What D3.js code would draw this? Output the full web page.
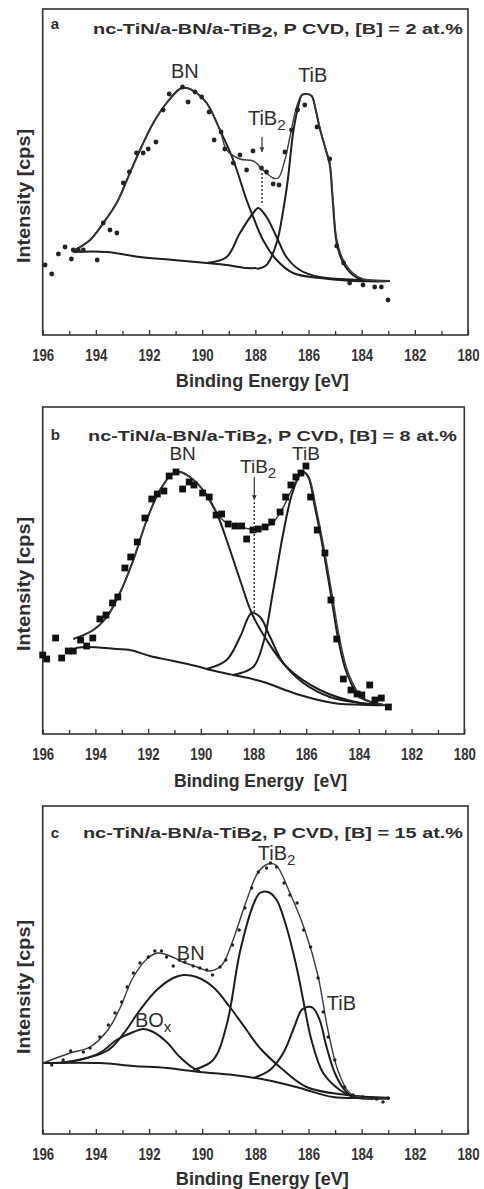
<!DOCTYPE html>
<html>
<head>
<meta charset="utf-8">
<script src="https://cdn.jsdelivr.net/npm/d3@7"></script>
<style>
  body { margin: 0; background: #fff; }
  text { font-family: "Liberation Sans", Arial, sans-serif; fill: #2e2e2e; }
</style>
</head>
<body>
<div id="chart"></div>
<script>
// ---- data (binding energy [eV], intensity [arb. units]) ----
var majorTicks = [196, 194, 192, 190, 188, 186, 184, 182, 180];
var minorTicks = [195, 193, 191, 189, 187, 185, 183, 181];
var panelLetters = ["a", "b", "c"];
var boronContent = [2, 8, 15];

// panel a: [B] = 2 at.%
var aDots = [[195.91,70],[195.66,61],[195.41,81],[195.16,88],[194.92,76],[194.85,85],[194.66,85],[194.47,85],
  [193.95,75],[193.72,112],[193.47,105],[193.21,102],[192.97,152],[192.74,163],[192.47,182],[192.22,182],
  [192.03,186],[191.74,193],[191.47,225],[191.24,241],[190.74,248],[190.53,233],[190.27,243],[190.02,238],
  [189.74,223],[189.55,195],[189.29,203],[189.15,186],[188.83,172],[188.58,180],[188.33,165],[188.09,184],
  [187.77,167],[187.58,163],[187.33,151],[187.11,150],[186.89,183],[186.64,205],[186.41,225],[186.14,230],
  [185.68,208],[185.2,176],[184.94,89],[184.68,72],[184.45,52],[183.95,50],[183.51,48],[183.26,48],[183.01,35]];
var aBackground = [[194.85,83],[193.59,83],[192.34,78],[191.09,75],[189.83,72],[189.08,70],[188.33,67],[187.95,67]];
var aBN = [[194.85,84],[194.22,95],[193.72,112],[193.22,132],[192.72,162],[192.34,185],[191.84,212],[191.34,232],
  [190.84,246],[190.59,247],[190.21,242],[189.83,232],[189.33,205],[188.83,175],[188.33,135],[188.08,118],
  [187.71,95],[187.2,75],[186.58,62],[185.58,57],[184.32,54],[182.94,54]];
var aTiB2 = [[189.83,72],[189.08,78],[188.58,102],[188.08,122],[187.89,127],[187.58,118],[187.2,98],[186.83,78],
  [186.33,65],[185.58,58],[184.07,55],[182.94,54]];
var aTiB = [[187.95,66],[187.58,70],[187.2,92],[186.95,125],[186.78,155],[186.58,202],[186.4,227],[186.25,240],
  [186.06,241],[185.88,239],[185.73,225],[185.58,207],[185.35,185],[185.2,170],[185.09,135],[184.94,92],
  [184.71,73],[184.33,60],[183.95,55],[182.94,54]];
var aEnvelope = [[194.85,84],[194.22,95],[193.72,112],[193.22,132],[192.72,162],[192.34,185],[191.84,212],
  [191.34,232],[190.84,246],[190.59,247],[190.21,242],[189.83,232],[189.33,205],[189.08,185],[188.58,176],
  [188.08,174],[187.71,165],[187.33,157],[187.14,157],[186.89,175],[186.7,198],[186.45,228],[186.25,240],
  [186.06,241],[185.88,239],[185.73,226],[185.58,208],[185.35,186],[185.2,172],[185.09,140],[184.94,96],
  [184.71,76],[184.33,62],[183.95,56],[182.94,54]];

// panel b: [B] = 8 at.%
var bDots = [[196.0,79],[195.85,75],[195.51,96],[195.28,76],[195.03,83],[194.84,83],[194.56,94],[194.33,88],
  [194.1,96],[193.83,115],[193.6,119],[193.35,131],[193.15,137],[192.88,166],[192.66,177],[192.41,192],
  [192.12,216],[191.86,235],[191.65,240],[191.4,243],[191.2,258],[190.94,262],[190.69,245],[190.44,252],
  [190.26,249],[189.93,241],[189.68,237],[189.42,219],[189.21,220],[188.96,210],[188.7,208],[188.45,208],
  [188.26,195],[188.02,204],[187.82,205],[187.56,207],[187.31,212],[186.99,222],[186.78,237],[186.58,249],
  [186.39,257],[186.2,261],[186.01,268],[185.83,237],[185.58,204],[185.29,181],[185.06,134],[184.84,95],
  [184.59,55],[184.3,44],[184.07,40],[183.89,39],[183.59,49],[183.39,34],[183.15,36],[182.88,27]];
var bBackground = [[194.75,86],[194.33,87],[193.19,85],[192.69,84],[191.93,78],[191.04,73],[190.03,67],
  [189.78,65],[188.77,59],[187.75,53],[186.24,39],[184.97,31],[183.7,29],[182.82,29]];
var bBN = [[194.84,95],[194.08,104],[193.57,117],[193.07,141],[192.56,174],[192.05,214],[191.55,244],[191.04,261],
  [190.79,262],[190.41,257],[189.91,244],[189.4,221],[189.02,194],[188.51,154],[188.07,121],[187.5,94],
  [186.74,67],[185.48,44],[183.96,31],[183.07,29]];
var bTiB2 = [[189.78,65],[189.02,74],[188.51,97],[188.07,121],[187.75,117],[187.37,97],[186.87,71],[186.11,51],
  [185.1,37],[183.96,31],[183.07,29]];
var bTiB = [[188.77,59],[188.01,67],[187.63,91],[187.25,144],[186.87,201],[186.55,239],[186.24,259],[186.11,262],
  [185.92,257],[185.67,227],[185.35,184],[185.03,134],[184.78,94],[184.46,61],[183.96,37],[183.07,29]];
var bEnvelope = [[194.84,95],[194.08,104],[193.57,117],[193.07,141],[192.56,174],[192.05,214],[191.55,244],
  [191.04,261],[190.79,262],[190.41,257],[189.91,244],[189.4,221],[189.02,211],[188.51,207],[188.01,205],
  [187.37,209],[186.99,221],[186.61,241],[186.3,257],[186.11,262],[185.9,257],[185.63,227],[185.31,184],
  [184.98,134],[184.72,94],[184.4,61],[183.88,37],[183.01,29]];

// panel c: [B] = 15 at.%
var cDots = [[195.66,69],[195.23,74],[194.95,83],[194.47,82],[194.22,86],[193.85,97],[193.53,109],[193.28,121],
  [193.03,132],[192.82,147],[192.59,161],[192.34,171],[192.03,177],[191.78,183],[191.53,183],[191.34,177],
  [191.09,168],[190.86,174],[190.65,172],[190.34,168],[190.09,166],[189.83,164],[189.61,159],[189.33,167],
  [189.11,174],[188.86,189],[188.61,204],[188.39,226],[188.14,246],[187.89,262],[187.58,266],[187.43,271],
  [187.2,267],[186.92,251],[186.7,239],[186.43,231],[186.18,204],[185.92,187],[185.64,156],[185.45,122],
  [185.26,97],[185.01,74],[184.64,47],[184.32,39],[183.95,37],[183.63,36],[183.44,35],[183.2,32],[183.01,36]];
var cBackground = [[195.98,71],[193.85,71],[192.59,68],[191.34,66],[190.09,62],[188.83,59],[187.58,54],
  [186.33,46],[185.08,37],[183.82,36],[182.94,36]];
var cBOx = [[195.35,71],[194.47,75],[193.85,81],[193.22,94],[192.59,102],[192.22,105],[191.84,102],[191.34,92],
  [190.84,77],[190.34,66],[190.09,63]];
var cBN = [[195.73,71],[195.1,72],[193.59,83],[192.97,100],[192.34,124],[191.71,144],[191.09,156],[190.71,159],
  [190.21,157],[189.59,147],[188.96,127],[188.33,104],[187.83,86],[187.08,67],[186.08,47],[184.57,39],[182.94,36]];
var cTiB2 = [[190.34,64],[189.59,74],[189.08,109],[188.58,182],[188.08,229],[187.83,241],[187.52,242],[187.2,234],
  [186.83,207],[186.45,167],[186.2,134],[185.89,94],[185.45,61],[184.82,44],[184.45,39],[182.94,36]];
var cTiB = [[188.08,56],[187.45,64],[186.95,81],[186.58,104],[186.26,124],[186.05,127],[185.83,126],[185.58,114],
  [185.32,87],[185.01,61],[184.64,44],[184.32,37],[182.94,36]];
var cEnvelope = [[195.98,71],[194.97,81],[194.22,87],[193.55,104],[193.09,126],[192.61,156],[192.04,176],
  [191.67,181],[191.21,178],[190.73,172],[190.2,167],[189.71,163],[189.26,169],[188.88,191],[188.39,229],
  [187.91,261],[187.53,270],[187.23,269],[186.7,241],[186.14,204],[185.65,159],[185.27,104],[184.9,64],
  [184.45,41],[183.88,36],[182.94,35]];

// peak labels: [text, subscript, energy, intensity, anchor]
var aLabels = [["BN", "", 190.65, 257], ["TiB", "", 185.84, 253], ["TiB", "2", 188.28, 210, "start"]];
var bLabels = [["BN", "", 190.69, 274], ["TiB", "", 186.01, 274], ["TiB", "2", 188.51, 261, "start"]];
var cLabels = [["TiB", "2", 187.91, 274, "start"], ["BN", "", 190.43, 174], ["BO", "x", 192.53, 107, "start"],
  ["TiB", "", 185.31, 124, "start"]];

// TiB2 marker: energy, arrow from/to, dotted from/to (intensity)
var aMarker = [187.75, 198, 183, 166, 130];
var bMarker = [187.97, 257, 234, 232, 121];

// ---- layout ----
var svg = d3.select("#chart").append("svg").attr("width", 484).attr("height", 1189);

svg.append("defs").append("marker")
  .attr("id", "arrow").attr("viewBox", "0 0 10 10").attr("refX", 10).attr("refY", 5)
  .attr("markerWidth", 4).attr("markerHeight", 5).attr("orient", "auto")
  .append("path").attr("d", "M0,0 L10,5 L0,10 z").attr("fill", "#333");

var panels = [
  {left: 42.7, right: 468, top: 9, bottom: 335, titleX: 93, titleW: 370, titleY: 34, letterY: 29,
   xTitleY: 387, yMid: 196, dots: aDots, shape: "dot", curves: [aBackground, aBN, aTiB2, aTiB],
   env: aEnvelope, labels: aLabels, labelSize: 20, marker: aMarker, xTitle: "Binding Energy [eV]"},
  {left: 42.7, right: 464.3, top: 407, bottom: 734, titleX: 88, titleW: 369, titleY: 441, letterY: 440,
   xTitleY: 787, yMid: 584, dots: bDots, shape: "square", curves: [bBackground, bBN, bTiB2, bTiB],
   env: bEnvelope, labels: bLabels, labelSize: 19, marker: bMarker, xTitle: "Binding Energy  [eV]"},
  {left: 42.7, right: 468, top: 806, bottom: 1134, titleX: 83, titleW: 380, titleY: 838, letterY: 838,
   xTitleY: 1185, yMid: 987, dots: cDots, shape: "small", curves: [cBackground, cBOx, cBN, cTiB2, cTiB],
   env: cEnvelope, labels: cLabels, labelSize: 20, marker: null, xTitle: "Binding Energy [eV]"}
];

panels.forEach(function(p, k) {
  var x = d3.scaleLinear().domain([196, 180]).range([p.left, p.right]);
  var y = d3.scaleLinear().domain([0, p.bottom - p.top]).range([p.bottom, p.top]);
  var g = svg.append("g");

  // ticks (pointing into the frame)
  var major = g.append("g").attr("transform", "translate(0," + p.bottom + ")")
    .call(d3.axisBottom(x).tickValues(majorTicks).tickFormat(d3.format("d")).tickSizeInner(-5).tickSizeOuter(0));
  g.append("g").attr("transform", "translate(0," + p.bottom + ")")
    .call(d3.axisBottom(x).tickValues(minorTicks).tickFormat("").tickSizeInner(-4).tickSizeOuter(0));
  g.selectAll(".domain").remove();
  g.selectAll(".tick line").attr("stroke", "#333").attr("stroke-width", 1.3);
  major.selectAll("text")
    .attr("y", 26).attr("dy", 0)
    .attr("textLength", 22).attr("lengthAdjust", "spacingAndGlyphs")
    .style("font-size", "17px").style("font-weight", "bold").style("fill", "#333")
    .style("font-family", "'Liberation Sans', Arial, sans-serif");

  // frame
  g.append("rect").attr("x", p.left).attr("y", p.top)
    .attr("width", p.right - p.left).attr("height", p.bottom - p.top)
    .attr("fill", "none").attr("stroke", "#333").attr("stroke-width", 1.6);

  // axis titles
  g.append("text").attr("x", (p.left + p.right) / 2 + 7).attr("y", p.xTitleY)
    .attr("text-anchor", "middle").attr("textLength", 173).attr("lengthAdjust", "spacingAndGlyphs")
    .style("font-size", "18px").style("font-weight", "bold").style("white-space", "pre")
    .text(p.xTitle);
  g.append("text").attr("transform", "translate(30," + p.yMid + ") rotate(-90)")
    .attr("text-anchor", "middle").attr("textLength", 134).attr("lengthAdjust", "spacingAndGlyphs")
    .style("font-size", "18px").style("font-weight", "bold")
    .text("Intensity [cps]");

  // panel letter + title
  g.append("text").attr("x", p.left + 8).attr("y", p.letterY)
    .style("font-size", "15px").style("font-weight", "bold").text(panelLetters[k]);
  var t = g.append("text").attr("x", p.titleX).attr("y", p.titleY)
    .attr("textLength", p.titleW).attr("lengthAdjust", "spacingAndGlyphs")
    .style("font-size", "15px").style("font-weight", "bold");
  t.append("tspan").text("nc-TiN/a-BN/a-TiB");
  t.append("tspan").attr("dy", 3).text("2");
  t.append("tspan").attr("dy", -3).text(", P CVD, [B] = " + boronContent[k] + " at.%");

  // fitted components
  var line = d3.line().x(function(d) { return x(d[0]); }).y(function(d) { return y(d[1]); })
    .curve(d3.curveCatmullRom.alpha(0.5));
  p.curves.forEach(function(c) {
    g.append("path").datum(c).attr("d", line)
      .attr("fill", "none").attr("stroke", "#1e1e1e").attr("stroke-width", 2);
  });
  g.append("path").datum(p.env).attr("d", line)
    .attr("fill", "none").attr("stroke", "#3a3a3a").attr("stroke-width", 1.4);

  // measured points
  if (p.shape === "square") {
    g.selectAll(".pt").data(p.dots).enter().append("rect")
      .attr("x", function(d) { return x(d[0]) - 3.4; }).attr("y", function(d) { return y(d[1]) - 3.4; })
      .attr("width", 6.8).attr("height", 6.8).attr("fill", "#111");
  } else {
    g.selectAll(".pt").data(p.dots).enter().append("circle")
      .attr("cx", function(d) { return x(d[0]); }).attr("cy", function(d) { return y(d[1]); })
      .attr("r", p.shape === "dot" ? 2.4 : 1.7).attr("fill", "#222");
  }

  // peak labels
  p.labels.forEach(function(l) {
    var lt = g.append("text").attr("x", x(l[2])).attr("y", y(l[3]))
      .attr("text-anchor", l[4] || "middle").style("font-size", p.labelSize + "px");
    lt.append("tspan").text(l[0]);
    if (l[1]) lt.append("tspan").attr("dy", 5).style("font-size", "15px").text(l[1]);
  });

  // TiB2 position marker
  if (p.marker) {
    var m = p.marker;
    g.append("line").attr("x1", x(m[0])).attr("x2", x(m[0])).attr("y1", y(m[1])).attr("y2", y(m[2]))
      .attr("stroke", "#333").attr("stroke-width", 1.2).attr("marker-end", "url(#arrow)");
    g.append("line").attr("x1", x(m[0])).attr("x2", x(m[0])).attr("y1", y(m[3])).attr("y2", y(m[4]))
      .attr("stroke", "#333").attr("stroke-width", 1.4).attr("stroke-dasharray", "2,2");
  }
});
</script>
</body>
</html>
